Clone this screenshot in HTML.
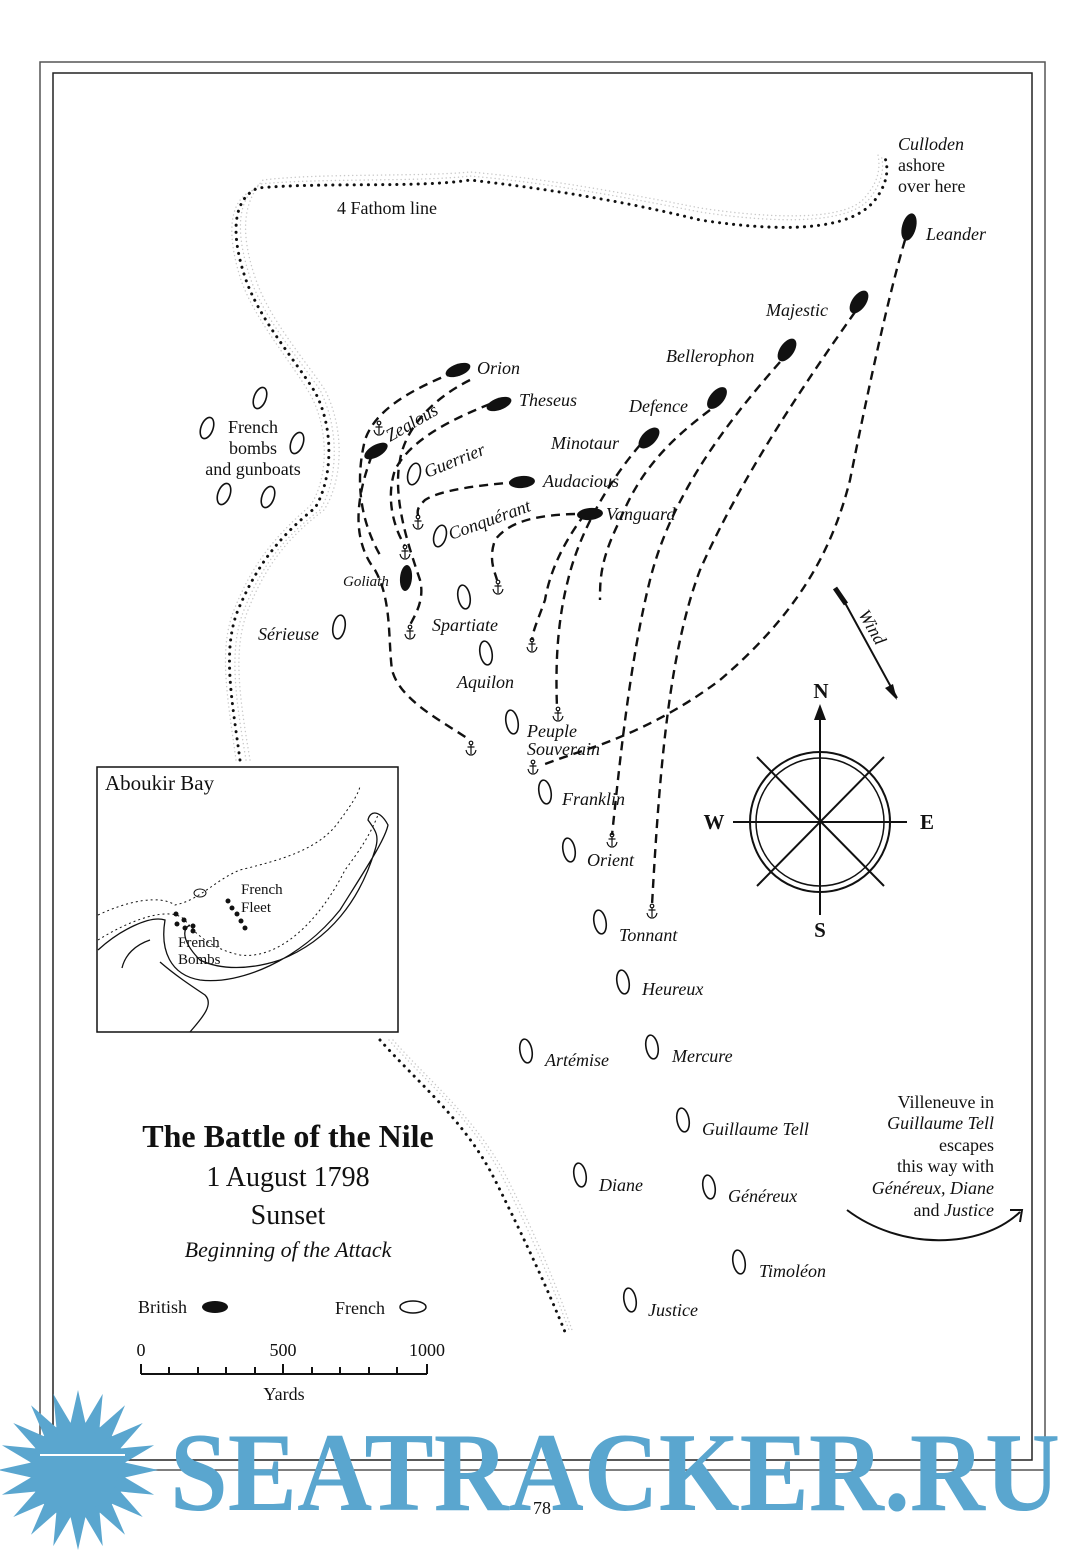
<!DOCTYPE html>
<html><head><meta charset="utf-8"><style>
html,body{margin:0;padding:0;background:#fff;}
svg{display:block;}
text{font-family:"Liberation Serif",serif;fill:#111;}
.it{font-style:italic;font-size:18px;}
.rm{font-size:18px;}
.dash{fill:none;stroke:#111;stroke-width:2.4;stroke-dasharray:9,6;}
.dot{fill:none;stroke:#111;stroke-width:3;stroke-dasharray:0.1,7;stroke-linecap:round;}
.stip{fill:none;stroke:#c8c8c8;stroke-width:1.4;stroke-dasharray:0.1,4;stroke-linecap:round;}
.fr{fill:#fff;stroke:#111;stroke-width:1.6;}
.br{fill:#111;}
</style></head><body>
<svg width="1080" height="1550" viewBox="0 0 1080 1550" xmlns="http://www.w3.org/2000/svg">
<defs>
<g id="anc" fill="none" stroke="#111" stroke-width="1.2">
<circle cx="0" cy="-6" r="1.8"/>
<line x1="0" y1="-4" x2="0" y2="5"/>
<line x1="-3.5" y1="-2" x2="3.5" y2="-2"/>
<path d="M-5,1 Q-4,6 0,6 Q4,6 5,1"/>
</g>
</defs>
<rect width="1080" height="1550" fill="#fff"/>
<rect x="40" y="62" width="1005" height="1408" fill="none" stroke="#555" stroke-width="1.5"/>
<rect x="53" y="73" width="979" height="1387" fill="none" stroke="#222" stroke-width="1.5"/>

<!-- fathom line stipple band -->
<g class="stip">
<path d="M246,760 C236,700 228,650 244,610 C260,570 280,540 320,510 C338,480 340,430 320,390 C300,360 265,320 251,280 C237,240 234,200 260,184 C320,178 420,182 470,176 C540,182 620,196 700,212 C780,224 850,224 870,198 C884,180 884,165 881,155"/>
<path d="M250,760 C240,700 232,650 248,610 C264,570 284,540 324,510 C343,480 345,430 325,390 C305,360 270,320 256,280 C242,240 240,205 263,180 C320,173 420,177 470,172 C540,178 620,192 700,208 C780,220 850,220 866,196 C880,180 880,165 878,155"/>
<path d="M236,760 C228,700 218,650 234,610 C250,570 270,540 310,506 C328,480 330,430 310,394 C290,360 255,320 241,280 C228,240 226,200 254,190"/>
<path d="M389,1040 C424,1080 474,1120 504,1180 C534,1240 554,1290 569,1330"/>
<path d="M393,1040 C428,1080 478,1120 508,1180 C538,1240 558,1290 572,1330"/>
</g>
<path class="dot" d="M240,760 C232,700 222,650 238,610 C255,570 275,540 315,508 C332,480 335,430 315,392 C295,360 260,320 246,280 C232,240 230,200 258,188 C320,182 420,188 470,180 C540,188 620,200 700,220 C780,232 850,232 875,200 C890,180 888,165 884,155"/>
<path class="dot" d="M380,1040 C415,1080 465,1120 495,1180 C525,1240 548,1290 565,1332"/>

<!-- dashed tracks -->
<path class="dash" d="M905,240 C890,290 870,380 850,480 C830,560 790,620 720,680 C680,710 640,730 600,745 C570,755 550,762 540,766"/>
<path class="dash" d="M855,312 C800,390 740,480 700,570 C670,650 660,760 652,905"/>
<path class="dash" d="M780,362 C720,430 670,500 650,580 C630,660 620,760 612,835"/>
<path class="dash" d="M710,410 C670,440 640,470 620,520 C600,560 600,580 600,600"/>
<path class="dash" d="M640,445 C610,480 580,530 568,580 C555,630 556,680 557,708"/>
<path class="dash" d="M585,514 C565,540 550,570 545,600 C538,620 533,630 532,640"/>
<path class="dash" d="M575,514 C540,515 510,520 495,540 C488,560 495,572 497,580"/>
<path class="dash" d="M518,482 C480,485 440,490 425,500 C415,510 418,512 418,516"/>
<path class="dash" d="M490,404 C450,420 410,440 395,470 C385,500 395,530 405,546"/>
<path class="dash" d="M455,372 C410,390 375,410 365,440 C355,480 360,520 380,555"/>
<path class="dash" d="M470,380 C430,400 405,430 400,460 C392,500 410,550 420,580 C425,600 415,615 410,625"/>
<path class="dash" d="M372,455 C355,500 352,540 375,570 C392,600 388,640 392,670 C400,700 440,720 470,740"/>

<!-- anchors -->
<use href="#anc" x="379" y="429"/><use href="#anc" x="418" y="523"/><use href="#anc" x="405" y="553"/>
<use href="#anc" x="410" y="633"/><use href="#anc" x="498" y="588"/><use href="#anc" x="532" y="646"/>
<use href="#anc" x="558" y="715"/><use href="#anc" x="533" y="768"/><use href="#anc" x="471" y="749"/>
<use href="#anc" x="612" y="841"/><use href="#anc" x="652" y="912"/>

<!-- British ships -->
<ellipse class="br" cx="909" cy="227" rx="7" ry="14" transform="rotate(15 909 227)"/>
<ellipse class="br" cx="859" cy="302" rx="7" ry="13" transform="rotate(35 859 302)"/>
<ellipse class="br" cx="787" cy="350" rx="7" ry="13" transform="rotate(35 787 350)"/>
<ellipse class="br" cx="717" cy="398" rx="7" ry="13" transform="rotate(40 717 398)"/>
<ellipse class="br" cx="649" cy="438" rx="7" ry="13" transform="rotate(45 649 438)"/>
<ellipse class="br" cx="522" cy="482" rx="6" ry="13" transform="rotate(85 522 482)"/>
<ellipse class="br" cx="590" cy="514" rx="6" ry="13" transform="rotate(85 590 514)"/>
<ellipse class="br" cx="458" cy="370" rx="6" ry="13" transform="rotate(70 458 370)"/>
<ellipse class="br" cx="499" cy="404" rx="6" ry="13" transform="rotate(70 499 404)"/>
<ellipse class="br" cx="376" cy="451" rx="6" ry="13" transform="rotate(60 376 451)"/>
<ellipse class="br" cx="406" cy="578" rx="6" ry="13" transform="rotate(5 406 578)"/>

<!-- French ships -->
<g class="fr">
<ellipse cx="260" cy="398" rx="6" ry="11" transform="rotate(20 260 398)"/>
<ellipse cx="207" cy="428" rx="6" ry="11" transform="rotate(20 207 428)"/>
<ellipse cx="297" cy="443" rx="6" ry="11" transform="rotate(20 297 443)"/>
<ellipse cx="224" cy="494" rx="6" ry="11" transform="rotate(20 224 494)"/>
<ellipse cx="268" cy="497" rx="6" ry="11" transform="rotate(20 268 497)"/>
<ellipse cx="414" cy="474" rx="6" ry="11" transform="rotate(15 414 474)"/>
<ellipse cx="440" cy="536" rx="6" ry="11" transform="rotate(15 440 536)"/>
<ellipse cx="339" cy="627" rx="6" ry="12" transform="rotate(10 339 627)"/>
<ellipse cx="464" cy="597" rx="6" ry="12" transform="rotate(-10 464 597)"/>
<ellipse cx="486" cy="653" rx="6" ry="12" transform="rotate(-10 486 653)"/>
<ellipse cx="512" cy="722" rx="6" ry="12" transform="rotate(-10 512 722)"/>
<ellipse cx="545" cy="792" rx="6" ry="12" transform="rotate(-10 545 792)"/>
<ellipse cx="569" cy="850" rx="6" ry="12" transform="rotate(-10 569 850)"/>
<ellipse cx="600" cy="922" rx="6" ry="12" transform="rotate(-10 600 922)"/>
<ellipse cx="623" cy="982" rx="6" ry="12" transform="rotate(-10 623 982)"/>
<ellipse cx="526" cy="1051" rx="6" ry="12" transform="rotate(-10 526 1051)"/>
<ellipse cx="652" cy="1047" rx="6" ry="12" transform="rotate(-10 652 1047)"/>
<ellipse cx="683" cy="1120" rx="6" ry="12" transform="rotate(-10 683 1120)"/>
<ellipse cx="580" cy="1175" rx="6" ry="12" transform="rotate(-10 580 1175)"/>
<ellipse cx="709" cy="1187" rx="6" ry="12" transform="rotate(-10 709 1187)"/>
<ellipse cx="739" cy="1262" rx="6" ry="12" transform="rotate(-10 739 1262)"/>
<ellipse cx="630" cy="1300" rx="6" ry="12" transform="rotate(-10 630 1300)"/>
</g>

<!-- labels -->
<g class="it">
<text x="898" y="150">Culloden</text>
<text x="926" y="240">Leander</text>
<text x="766" y="316">Majestic</text>
<text x="666" y="362">Bellerophon</text>
<text x="629" y="412">Defence</text>
<text x="551" y="449">Minotaur</text>
<text x="543" y="487">Audacious</text>
<text x="606" y="520">Vanguard</text>
<text x="477" y="374">Orion</text>
<text x="519" y="406">Theseus</text>
<text x="390" y="442" transform="rotate(-30 390 442)">Zealous</text>
<text x="427" y="478" transform="rotate(-22 427 478)">Guerrier</text>
<text x="451" y="540" transform="rotate(-20 451 540)">Conquérant</text>
<text x="343" y="586" font-size="15">Goliath</text>
<text x="258" y="640">Sérieuse</text>
<text x="432" y="631">Spartiate</text>
<text x="457" y="688">Aquilon</text>
<text x="527" y="737">Peuple</text>
<text x="527" y="755">Souverain</text>
<text x="562" y="805">Franklin</text>
<text x="587" y="866">Orient</text>
<text x="619" y="941">Tonnant</text>
<text x="642" y="995">Heureux</text>
<text x="545" y="1066">Artémise</text>
<text x="672" y="1062">Mercure</text>
<text x="702" y="1135">Guillaume Tell</text>
<text x="599" y="1191">Diane</text>
<text x="728" y="1202">Généreux</text>
<text x="759" y="1277">Timoléon</text>
<text x="648" y="1316">Justice</text>
</g>
<g class="rm">
<text x="898" y="171">ashore</text>
<text x="898" y="192">over here</text>
<text x="337" y="214">4 Fathom line</text>
<text x="253" y="433" text-anchor="middle">French</text>
<text x="253" y="454" text-anchor="middle">bombs</text>
<text x="253" y="475" text-anchor="middle">and gunboats</text>
</g>
<g class="rm" text-anchor="end">
<text x="994" y="1108">Villeneuve in</text>
<text x="994" y="1129" font-style="italic">Guillaume Tell</text>
<text x="994" y="1151">escapes</text>
<text x="994" y="1172">this way with</text>
<text x="994" y="1194"><tspan font-style="italic">Généreux, Diane</tspan></text>
<text x="994" y="1216">and <tspan font-style="italic">Justice</tspan></text>
</g>
<path d="M847,1210 C900,1250 980,1250 1020,1212" fill="none" stroke="#111" stroke-width="2"/>
<path d="M1010,1210 L1022,1210 L1020,1222" fill="none" stroke="#111" stroke-width="2"/>

<!-- wind -->
<line x1="838" y1="590" x2="897" y2="698" stroke="#111" stroke-width="2"/>
<path d="M897,700 L885,688 L893,684 Z" fill="#111"/>
<path d="M835,588 L846,604" stroke="#111" stroke-width="5"/>
<text x="858" y="614" class="it" transform="rotate(60 858 614)">Wind</text>

<!-- compass -->
<circle cx="820" cy="822" r="70" fill="none" stroke="#111" stroke-width="2"/>
<circle cx="820" cy="822" r="64" fill="none" stroke="#111" stroke-width="1.5"/>
<line x1="820" y1="712" x2="820" y2="915" stroke="#111" stroke-width="2"/>
<path d="M820,704 L814,720 L826,720 Z" fill="#111"/>
<line x1="733" y1="822" x2="907" y2="822" stroke="#111" stroke-width="2"/>
<line x1="757" y1="757" x2="884" y2="886" stroke="#111" stroke-width="2"/>
<line x1="884" y1="757" x2="757" y2="886" stroke="#111" stroke-width="2"/>
<g font-weight="bold" font-size="21" text-anchor="middle">
<text x="821" y="698">N</text><text x="820" y="937">S</text>
<text x="714" y="829">W</text><text x="927" y="829">E</text>
</g>

<!-- inset -->
<rect x="97" y="767" width="301" height="265" fill="#fff" stroke="#111" stroke-width="1.5"/>
<text x="105" y="790" font-size="21">Aboukir Bay</text>
<path d="M98,915 C130,900 160,895 175,905 C200,900 215,880 240,870 C280,860 320,850 340,820 C355,800 360,790 360,785" fill="none" stroke="#111" stroke-width="1" stroke-dasharray="2,3"/>
<path d="M98,940 C130,920 170,905 185,920 C195,935 215,950 240,955 C280,960 320,920 345,870 C360,850 370,835 378,815" fill="none" stroke="#111" stroke-width="1" stroke-dasharray="2,3"/>
<path d="M98,950 C120,930 150,915 165,920 C160,950 170,975 200,980 C240,985 300,960 340,910 C365,870 385,840 388,825 C380,810 370,810 368,820 C375,830 380,835 375,850 C360,900 330,940 280,960 C250,970 220,970 200,960 C185,945 180,930 190,925 M150,940 C135,945 125,955 122,968 M190,1032 C200,1020 215,1005 205,995 C190,985 175,975 160,962" fill="none" stroke="#111" stroke-width="1.3"/>
<g fill="#111"><circle cx="176" cy="914" r="2.5"/><circle cx="184" cy="920" r="2.5"/><circle cx="177" cy="924" r="2.5"/><circle cx="185" cy="928" r="2.5"/><circle cx="193" cy="926" r="2.5"/><circle cx="193" cy="931" r="2.5"/>
<circle cx="228" cy="901" r="2.5"/><circle cx="232" cy="908" r="2.5"/><circle cx="237" cy="914" r="2.5"/><circle cx="241" cy="921" r="2.5"/><circle cx="245" cy="928" r="2.5"/></g>
<ellipse cx="200" cy="893" rx="6" ry="4" fill="none" stroke="#111"/>
<g font-size="15"><text x="241" y="894">French</text><text x="241" y="912">Fleet</text>
<text x="178" y="947">French</text><text x="178" y="964">Bombs</text></g>

<!-- title -->
<text x="288" y="1147" text-anchor="middle" font-size="32" font-weight="bold">The Battle of the Nile</text>
<text x="288" y="1186" text-anchor="middle" font-size="28">1 August 1798</text>
<text x="288" y="1224" text-anchor="middle" font-size="28">Sunset</text>
<text x="288" y="1257" text-anchor="middle" font-size="22" font-style="italic">Beginning of the Attack</text>
<text x="138" y="1313" class="rm">British</text>
<ellipse cx="215" cy="1307" rx="13" ry="6" fill="#111"/>
<text x="335" y="1314" class="rm">French</text>
<ellipse cx="413" cy="1307" rx="13" ry="6" fill="#fff" stroke="#111" stroke-width="1.5"/>
<g class="rm" text-anchor="middle"><text x="141" y="1356">0</text><text x="283" y="1356">500</text><text x="427" y="1356">1000</text><text x="284" y="1400">Yards</text></g>
<path d="M141,1374 H427 M141,1364 V1374 M169,1367 V1374 M198,1367 V1374 M226,1367 V1374 M255,1367 V1374 M283,1364 V1374 M312,1367 V1374 M340,1367 V1374 M369,1367 V1374 M397,1367 V1374 M427,1364 V1374" stroke="#111" stroke-width="2" fill="none"/>

<!-- watermark sun -->
<g fill="#5aa6cf" transform="translate(78,1470)">
<circle r="48"/>
<g id="sp"><polygon points="-9,-40 0,-80 9,-40"/></g>
<use href="#sp" transform="rotate(18)"/><use href="#sp" transform="rotate(36)"/><use href="#sp" transform="rotate(54)"/>
<use href="#sp" transform="rotate(72)"/><use href="#sp" transform="rotate(90)"/><use href="#sp" transform="rotate(108)"/>
<use href="#sp" transform="rotate(126)"/><use href="#sp" transform="rotate(144)"/><use href="#sp" transform="rotate(162)"/>
<use href="#sp" transform="rotate(180)"/><use href="#sp" transform="rotate(198)"/><use href="#sp" transform="rotate(216)"/>
<use href="#sp" transform="rotate(234)"/><use href="#sp" transform="rotate(252)"/><use href="#sp" transform="rotate(270)"/>
<use href="#sp" transform="rotate(288)"/><use href="#sp" transform="rotate(306)"/><use href="#sp" transform="rotate(324)"/>
<use href="#sp" transform="rotate(342)"/>
</g>
<line x1="40" y1="1455" x2="125" y2="1455" stroke="#fff" stroke-width="2"/>
<text x="615" y="1510" text-anchor="middle" font-size="112" font-weight="bold" textLength="890" lengthAdjust="spacingAndGlyphs" style="fill:#5aa6cf">SEATRACKER.RU</text>
<text x="542" y="1514" text-anchor="middle" font-size="18">78</text>
</svg>
</body></html>
